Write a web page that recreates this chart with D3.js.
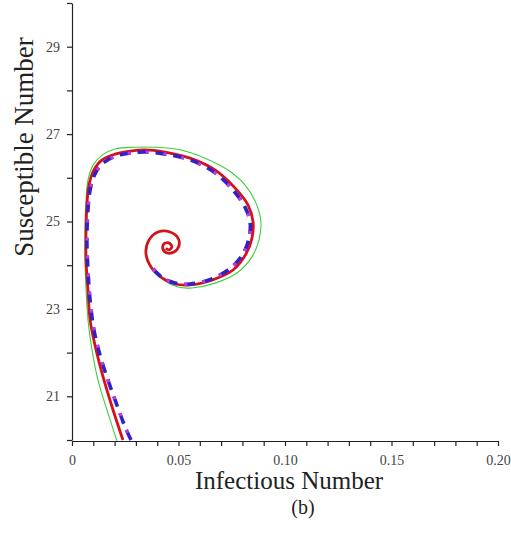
<!DOCTYPE html>
<html lang="en">
<head>
  <meta charset="UTF-8">
  <title>Phase portrait (b)</title>
  <script src="https://d3js.org/d3.v7.min.js"></script>
  <style>
    body { margin: 0; background: #fff; }
    svg { width: 511px; height: 538px; display: block; }
  </style>
</head>
<body>
  <svg></svg>
  <script>
    // trajectories: [infectious, susceptible]
    const redPath = [
      [0.0239, 20.0], [0.0188, 20.76], [0.0141, 21.53], [0.0108, 22.17], [0.0085, 22.75],
      [0.0075, 23.43], [0.0066, 24.12], [0.0066, 24.81], [0.0070, 25.38], [0.0080, 25.84],
      [0.0103, 26.18], [0.0141, 26.41], [0.0202, 26.54], [0.0272, 26.61], [0.0343, 26.64],
      [0.0437, 26.59], [0.0554, 26.45], [0.0671, 26.18], [0.0765, 25.77], [0.0826, 25.38],
      [0.0850, 24.99], [0.0845, 24.62], [0.0817, 24.26], [0.0756, 23.89], [0.0657, 23.66],
      [0.0554, 23.55], [0.0484, 23.57], [0.0423, 23.71], [0.0371, 23.96], [0.0347, 24.28],
      [0.0362, 24.58], [0.0404, 24.76], [0.0460, 24.76], [0.0498, 24.62], [0.0502, 24.44],
      [0.0479, 24.30], [0.0446, 24.28], [0.0427, 24.37], [0.0432, 24.49], [0.0455, 24.51],
      [0.0469, 24.42], [0.0455, 24.35], [0.0441, 24.39]
    ];
    const greenPath = [
      [0.0211, 19.98], [0.0164, 20.69], [0.0122, 21.37], [0.0094, 22.06], [0.0075, 22.75],
      [0.0066, 23.43], [0.0061, 24.12], [0.0061, 24.81], [0.0066, 25.49], [0.0075, 25.95],
      [0.0099, 26.29], [0.0141, 26.52], [0.0202, 26.66], [0.0296, 26.70], [0.0390, 26.70],
      [0.0507, 26.64], [0.0624, 26.45], [0.0732, 26.18], [0.0812, 25.84], [0.0864, 25.42],
      [0.0887, 24.99], [0.0878, 24.58], [0.0845, 24.19], [0.0779, 23.84], [0.0671, 23.59],
      [0.0563, 23.48], [0.0498, 23.50], [0.0430, 23.66], [0.0375, 23.94], [0.0349, 24.27],
      [0.0363, 24.58], [0.0404, 24.77], [0.0460, 24.77], [0.0498, 24.62], [0.0501, 24.44],
      [0.0478, 24.31], [0.0446, 24.29]
    ];
    const dashPath = [
      [0.0277, 20.0], [0.0249, 20.30], [0.0211, 20.80], [0.0169, 21.37], [0.0131, 21.95],
      [0.0103, 22.52], [0.0085, 23.20], [0.0075, 23.89], [0.0070, 24.58], [0.0075, 25.26],
      [0.0085, 25.72], [0.0108, 26.09], [0.0146, 26.34], [0.0207, 26.50], [0.0277, 26.57],
      [0.0347, 26.59], [0.0441, 26.54], [0.0554, 26.41], [0.0667, 26.13], [0.0756, 25.72],
      [0.0812, 25.33], [0.0836, 24.99], [0.0831, 24.62], [0.0803, 24.26], [0.0746, 23.94],
      [0.0653, 23.68], [0.0554, 23.57], [0.0484, 23.59], [0.0423, 23.72], [0.0371, 23.97]
    ];

    const xTicks = d3.range(0, 0.2001, 0.01);
    const yTicks = d3.range(20, 30.5, 1);
    const xLabelled = [0, 0.05, 0.10, 0.15, 0.20];
    const yLabelled = [21, 23, 25, 27, 29];

    const svg = d3.select(`svg`);
    const x = d3.scaleLinear().domain([0, 0.2]).range([72, 498]);
    const y = d3.scaleLinear().domain([20, 30]).range([440, 3]);
    const font = `"Liberation Serif", "Times New Roman", serif`;

    const line = d3.line().x(d => x(d[0])).y(d => y(d[1])).curve(d3.curveCatmullRom);

    svg.append(`path`).datum(greenPath).attr(`d`, line)
      .attr(`fill`, `none`).attr(`stroke`, `#3ccf3c`).attr(`stroke-width`, 1.1);
    svg.append(`path`).datum(redPath).attr(`d`, line)
      .attr(`fill`, `none`).attr(`stroke`, `#d3121c`).attr(`stroke-width`, 2.8);
    svg.append(`path`).datum(dashPath).attr(`d`, line)
      .attr(`fill`, `none`).attr(`stroke`, `#3320c8`).attr(`stroke-width`, 3.6)
      .attr(`stroke-dasharray`, `11 7`);
    svg.append(`path`).datum(dashPath).attr(`d`, line)
      .attr(`fill`, `none`).attr(`stroke`, `#c83ad8`).attr(`stroke-width`, 3.2)
      .attr(`stroke-dasharray`, `3 15`).attr(`stroke-dashoffset`, -8);

    // x axis
    const xAxis = d3.axisBottom(x)
      .tickValues(xTicks)
      .tickSize(5)
      .tickSizeOuter(0)
      .tickFormat(d => {
        const hit = xLabelled.find(v => Math.abs(v - d) < 1e-6);
        if (hit === undefined) return ``;
        return hit === 0 ? `0` : hit.toFixed(2);
      });
    const gx = svg.append(`g`).attr(`transform`, `translate(0, 441)`).call(xAxis);
    gx.selectAll(`text`).attr(`y`, 14).attr(`dy`, `0.71em`)
      .attr(`font-family`, font).attr(`font-size`, 14).attr(`fill`, `#444`);

    // y axis
    const yAxis = d3.axisLeft(y)
      .tickValues(yTicks)
      .tickSize(5)
      .tickSizeOuter(0)
      .tickFormat(d => yLabelled.includes(d) ? d : ``);
    const gy = svg.append(`g`).attr(`transform`, `translate(72, 0)`).call(yAxis);
    gy.selectAll(`text`).attr(`x`, -12)
      .attr(`font-family`, font).attr(`font-size`, 14).attr(`fill`, `#444`);

    svg.selectAll(`.domain, .tick line`).attr(`stroke`, `#222`).attr(`stroke-width`, 1.2);

    svg.append(`text`).attr(`x`, 289).attr(`y`, 489).attr(`text-anchor`, `middle`)
      .attr(`font-family`, font).attr(`font-size`, 25).attr(`fill`, `#222`)
      .text(`Infectious Number`);
    svg.append(`text`).attr(`x`, 303).attr(`y`, 514).attr(`text-anchor`, `middle`)
      .attr(`font-family`, font).attr(`font-size`, 20).attr(`fill`, `#222`)
      .text(`(b)`);
    svg.append(`text`).attr(`transform`, `translate(33, 147) rotate(-90)`)
      .attr(`text-anchor`, `middle`)
      .attr(`font-family`, font).attr(`font-size`, 27).attr(`fill`, `#222`)
      .text(`Susceptible Number`);
  </script>
</body>
</html>
